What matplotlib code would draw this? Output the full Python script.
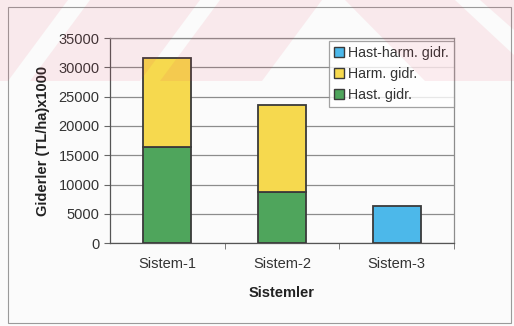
import numpy as np
import matplotlib
matplotlib.use("Agg")
import matplotlib.pyplot as plt
from matplotlib.patches import Rectangle, Polygon

plt.rcParams['font.family'] = ['Liberation Sans', 'DejaVu Sans']

categories = ["Sistem-1", "Sistem-2", "Sistem-3"]
hast_gidr = [16500, 8700, 0]
harm_gidr = [15100, 14900, 0]
hast_harm_gidr = [0, 0, 6400]
series_names = ["Hast. gidr.", "Harm. gidr.", "Hast-harm. gidr."]
yticks = [0, 5000, 10000, 15000, 20000, 25000, 30000, 35000]

c_green = "#4fa55c"
c_yellow = "#f6d94e"
c_blue = "#4cb8ea"
edge = "#3a3a3a"

W, H = 514, 326
fig = plt.figure(figsize=(W / 100, H / 100), dpi=100)
fig.patch.set_facecolor("#fbfbfb")

def px(x, y):
    return x / W, 1 - y / H

# chart area frame
x0, y0 = px(8, 323)
x1, y1 = px(511, 7)
fig.patches.append(Rectangle((x0, y0), x1 - x0, y1 - y0, transform=fig.transFigure,
                             facecolor="none", edgecolor="#9a9a9a", lw=0.8, zorder=1))

l, b = px(110, 243.3)
r, t = px(454, 38)
ax = fig.add_axes([l, b, r - l, t - b])
ax.set_facecolor("none")

x = np.arange(len(categories))
bw = 0.42

def draw(values, bottoms, color):
    for xi, v, bt in zip(x, values, bottoms):
        if v > 0:
            ax.bar(xi, v, bw, bottom=bt, color=color, edgecolor=edge, linewidth=1.3, zorder=3)

draw(hast_gidr, [0, 0, 0], c_green)
draw(harm_gidr, hast_gidr, c_yellow)
draw(hast_harm_gidr, [0, 0, 0], c_blue)

ax.set_xlim(-0.5, 2.5)
ax.set_ylim(0, 35000)
ax.set_yticks(yticks)
ax.set_yticklabels([str(v) for v in yticks], fontsize=10.5, color="#333333")
ax.yaxis.grid(True, color="#8c8c8c", lw=0.9, zorder=0)
ax.set_axisbelow(True)

ax.set_xticks(x)
ax.set_xticklabels(categories, fontsize=10.5, color="#333333")
ax.tick_params(axis="x", length=0, pad=10)
ax.set_xticks([0.5, 1.5, 2.5], minor=True)
ax.tick_params(axis="x", which="minor", length=4, color="#666666", direction="out")
ax.tick_params(axis="y", length=4, color="#666666", pad=3.5)

for s in ax.spines.values():
    s.set_color("#8c8c8c")
    s.set_linewidth(0.9)
ax.spines["left"].set_color("#555555")
ax.spines["bottom"].set_color("#555555")

ax.set_xlabel("Sistemler", fontsize=10.5, fontweight="bold", color="#222222", labelpad=11)
ax.set_ylabel("Giderler (TL/ha)x1000", fontsize=10.5, fontweight="bold", color="#222222", labelpad=6)

handles = [
    Rectangle((0, 0), 1, 1, facecolor=c_blue, edgecolor=edge, lw=1),
    Rectangle((0, 0), 1, 1, facecolor=c_yellow, edgecolor=edge, lw=1),
    Rectangle((0, 0), 1, 1, facecolor=c_green, edgecolor=edge, lw=1),
]
labels = [series_names[2], series_names[1], series_names[0]]
lx, ly = px(329, 41)
leg = fig.legend(handles, labels, loc="upper left", bbox_to_anchor=(lx, ly),
                 bbox_transform=fig.transFigure, fontsize=10.2, frameon=True,
                 fancybox=False, handlelength=0.7, handleheight=0.7,
                 handletextpad=0.3, borderpad=0.35, labelspacing=0.5,
                 borderaxespad=0)
leg.get_frame().set_edgecolor("#8c8c8c")
leg.get_frame().set_linewidth(0.9)
leg.get_frame().set_facecolor("white")
for tx in leg.get_texts():
    tx.set_color("#333333")

# faint pink diagonal banding printed over the top of the sheet
tint = dict(facecolor="#e63c5a", alpha=0.09, edgecolor="none", zorder=10,
            transform=fig.transFigure)
band_top, band_bot = 0, 81
for a, b2 in [(-90, 8), (30, 140), (160, 262)]:
    pts = [px(a + 60, band_top), px(b2 + 60, band_top), px(b2, band_bot), px(a, band_bot)]
    fig.patches.append(Polygon(pts, closed=True, **tint))
pts = [px(345, band_top), px(455, band_top), px(514, 55), px(514, band_bot),
       px(425, band_bot)]
fig.patches.append(Polygon(pts, closed=True, **tint))
pts = [px(480, band_top), px(514, band_top), px(514, 30)]
fig.patches.append(Polygon(pts, closed=True, **tint))

fig.savefig("out.png", dpi=100, facecolor=fig.get_facecolor())
